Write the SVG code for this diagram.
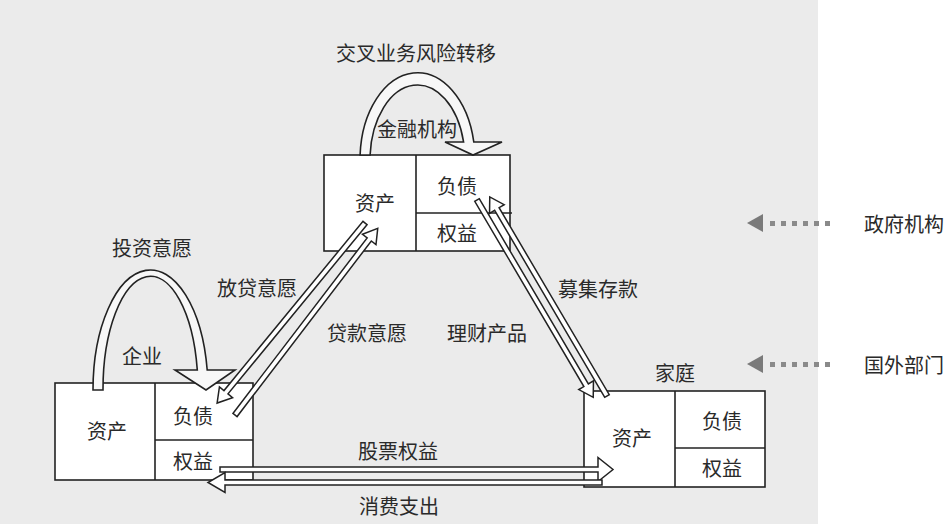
<svg xmlns="http://www.w3.org/2000/svg" width="950" height="524" viewBox="0 0 950 524">
<style>
text{font-family:"Noto Sans CJK SC","Noto Sans",sans-serif;font-size:20px;fill:#2a2a2a;text-anchor:middle;dominant-baseline:central}
.box{fill:#fff;stroke:#222;stroke-width:1.6}
.div{fill:none;stroke:#222;stroke-width:1.6}
.arr{fill:#fff;stroke:#222;stroke-width:1.5;stroke-linejoin:miter}
.arc{fill:#f7f7f7;stroke:#222;stroke-width:1.6;stroke-linejoin:miter}
.dot{fill:#8a8a8a}
.tri{fill:#7a7a7a}
</style>
<rect x="0" y="0" width="950" height="524" fill="#fff"/>
<rect x="0" y="0" width="818" height="524" fill="#ebebeb"/>

<g id="node-financial">
<rect class="box" x="324" y="155" width="186" height="96"/>
<line class="div" x1="416" y1="155" x2="416" y2="251"/>
<line class="div" x1="416" y1="213" x2="512" y2="213"/>
<text x="375" y="202">资产</text>
<text x="457" y="185">负债</text>
<text x="457" y="232">权益</text>
<text x="417" y="128">金融机构</text>
</g>

<g id="node-enterprise">
<rect class="box" x="55" y="383" width="198" height="97"/>
<line class="div" x1="155" y1="383" x2="155" y2="480"/>
<line class="div" x1="155" y1="440" x2="253" y2="440"/>
<text x="107" y="430">资产</text>
<text x="193" y="415">负债</text>
<text x="193" y="460">权益</text>
<text x="142" y="355">企业</text>
</g>

<g id="node-household">
<rect class="box" x="584" y="391" width="181" height="96"/>
<line class="div" x1="675" y1="391" x2="675" y2="487"/>
<line class="div" x1="675" y1="448" x2="765" y2="448"/>
<text x="632" y="437">资产</text>
<text x="722" y="420">负债</text>
<text x="722" y="467">权益</text>
<text x="675" y="372">家庭</text>
</g>

<g id="node-government">
<path class="tri" d="M747,223 L763,214 L763,232 Z"/>
<rect class="dot" x="770" y="221" width="5" height="5"/>
<rect class="dot" x="781" y="221" width="5" height="5"/>
<rect class="dot" x="792" y="221" width="5" height="5"/>
<rect class="dot" x="803" y="221" width="5" height="5"/>
<rect class="dot" x="814" y="221" width="5" height="5"/>
<rect class="dot" x="825" y="221" width="5" height="5"/>
<text x="904" y="223">政府机构</text>
</g>

<g id="node-foreign">
<path class="tri" d="M747,364 L763,355 L763,373 Z"/>
<rect class="dot" x="770" y="362" width="5" height="5"/>
<rect class="dot" x="781" y="362" width="5" height="5"/>
<rect class="dot" x="792" y="362" width="5" height="5"/>
<rect class="dot" x="803" y="362" width="5" height="5"/>
<rect class="dot" x="814" y="362" width="5" height="5"/>
<rect class="dot" x="825" y="362" width="5" height="5"/>
<text x="904" y="364">国外部门</text>
</g>

<g id="connectors">
<path class="arc" d="M360.1,155 A57.5,87 0 0 1 473.8,142 L502,142 L473,155 L445,142 L463.6,142 A47.5,75 0 0 0 370.1,155 Z"/>
<path class="arc" d="M93,390 A57.5,120 0 0 1 207.2,370 L235,370 L206,390 L175,370 L197.3,370 A47.5,113 0 0 0 103,390 Z"/>

<path class="arr" transform="translate(365,223) rotate(129.4)" d="M0,-2.6 H219 V-8.5 L233,0 L219,8.5 V2.6 H0 Z"/>
<path class="arr" transform="translate(235,415) rotate(-52.6)" d="M0,-2.6 H221 V-8.5 L235,0 L221,8.5 V2.6 H0 Z"/>
<path class="arr" transform="translate(477,200) rotate(59.5)" d="M0,-2.6 H215 V-8.5 L229,0 L215,8.5 V2.6 H0 Z"/>
<path class="arr" transform="translate(607,396) rotate(-120.5)" d="M0,-2.6 H217 V-8.5 L231,0 L217,8.5 V2.6 H0 Z"/>

<path class="arr" d="M220,467 H598 V457.5 L613,469.5 L598,481.5 V472 H220 Z"/>
<path class="arr" d="M602,480 H225 V472.5 L208,482.5 L225,492.5 V485 H602 Z"/>

<text x="416" y="52">交叉业务风险转移</text>
<text x="152" y="247">投资意愿</text>
<text x="257" y="287">放贷意愿</text>
<text x="367" y="332">贷款意愿</text>
<text x="487" y="332">理财产品</text>
<text x="598" y="288">募集存款</text>
<text x="398" y="450">股票权益</text>
<text x="399" y="505">消费支出</text>
</g>
</svg>
